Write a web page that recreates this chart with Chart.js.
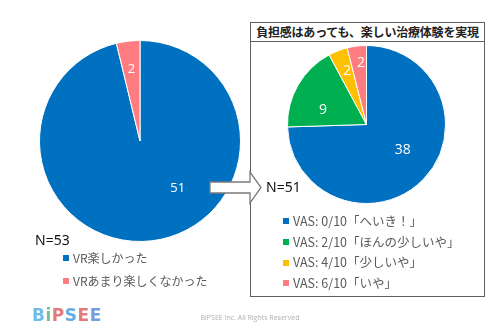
<!DOCTYPE html>
<html lang="ja">
<head>
<meta charset="utf-8">
<script src="https://cdn.jsdelivr.net/npm/chart.js@4.4.1/dist/chart.umd.min.js"></script>
<style>
  html, body { margin: 0; padding: 0; background: #fff; }
  #stage { position: relative; width: 500px; height: 334px; overflow: hidden;
           font-family: "Noto Sans CJK JP", "Noto Sans", sans-serif; }
  .abs { position: absolute; }
  canvas { display: block; }
  .legend-row { position: absolute; display: flex; align-items: center; white-space: nowrap;
                color: #595959; line-height: 1; }
  .swatch { display: inline-block; width: 6px; height: 6px; margin-right: 4px; }
  .ntext { position: absolute; font-family: "Noto Sans", sans-serif; font-size: 14px; color: #111;
           line-height: 1; }
  #box { position: absolute; left: 250px; top: 22px; width: 235px; height: 275px;
         border: 1.5px solid #606060; box-sizing: border-box; }
  #boxTitle { position: absolute; left: 0; top: 0; width: 100%; height: 19px;
              border-bottom: 1.5px solid #606060; box-sizing: border-box;
              font-size: 12px; font-weight: 700; color: #222; text-align: center; line-height: 18px;
              letter-spacing: -0.2px; }
  #logo { position: absolute; left: 32px; top: 305px; font-family: "DejaVu Sans", sans-serif;
          font-weight: 700; font-size: 17px; letter-spacing: 0.5px; opacity: 0.75; }
  #copy { position: absolute; left: 0; width: 500px; top: 313px; text-align: center;
          font-family: "Open Sans", sans-serif; font-size: 7px; color: #b0b0b0; }
</style>
</head>
<body>
<div id="stage">
  <div id="box"><div id="boxTitle"></div></div>
  <canvas id="leftPie" class="abs" style="left:39px;top:40px" width="202" height="202"></canvas>
  <canvas id="rightPie" class="abs" style="left:287px;top:45px" width="159" height="159"></canvas>
  <svg class="abs" style="left:0;top:0" width="500" height="334">
    <polygon points="210,182 250,182 250,172 261,187.5 250,203 250,193 210,193"
             fill="#ffffff" stroke="#7a7a7a" stroke-width="1.3"/>
  </svg>
  <div id="leftN" class="ntext" style="left:35px;top:233px"></div>
  <div id="rightN" class="ntext" style="left:266px;top:180px"></div>
  <div id="leftLegend"></div>
  <div id="rightLegend"></div>
  <div id="logo"></div>
  <div id="copy">BiPSEE Inc. All Rights Reserved</div>
</div>
<script>
// Overall enjoyment of the VR session
const enjoyLabels = ['VR楽しかった', 'VRあまり楽しくなかった'];
const enjoyValues = [51, 2];
const enjoyColors = ['#0070C0', '#FF7C80'];
const enjoyTotal = 'N=53';

// Burden (VAS) among those who enjoyed it
const vasLabels = ['VAS: 0/10「へいき！」', 'VAS: 2/10「ほんの少しいや」', 'VAS: 4/10「少しいや」', 'VAS: 6/10「いや」'];
const vasValues = [38, 9, 2, 2];
const vasColors = ['#0070C0', '#00B050', '#FFC000', '#FF7C80'];
const vasTotal = 'N=51';

const boxTitle = '負担感はあっても、楽しい治療体験を実現';

// Draws each slice's value in white inside the slice.
// angleShift (degrees) and radiusFrac nudge individual labels off the slice midline.
const sliceValueLabels = {
  id: 'sliceValueLabels',
  afterDatasetsDraw(chart, args, opts) {
    const ctx = chart.ctx;
    const meta = chart.getDatasetMeta(0);
    const values = chart.data.datasets[0].data;
    ctx.save();
    ctx.fillStyle = '#ffffff';
    ctx.font = opts.font || '13px "Open Sans", sans-serif';
    ctx.textAlign = 'center';
    ctx.textBaseline = 'middle';
    meta.data.forEach((arc, i) => {
      const mid = (arc.startAngle + arc.endAngle) / 2 + (opts.angleShift[i] || 0) * Math.PI / 180;
      const r = arc.outerRadius * opts.radiusFrac[i];
      ctx.fillText(String(values[i]), arc.x + Math.cos(mid) * r, arc.y + Math.sin(mid) * r);
    });
    ctx.restore();
  }
};

function pie(id, labels, values, colors, labelOpts) {
  return new Chart(document.getElementById(id), {
    type: 'pie',
    data: { labels, datasets: [{ data: values, backgroundColor: colors,
                                 borderColor: '#ffffff', borderWidth: 1 }] },
    options: {
      responsive: false,
      animation: false,
      layout: { padding: 0 },
      plugins: { legend: { display: false }, tooltip: { enabled: false },
                 sliceValueLabels: labelOpts }
    },
    plugins: [sliceValueLabels]
  });
}

pie('leftPie', enjoyLabels, enjoyValues, enjoyColors,
    { angleShift: [-32, 0], radiusFrac: [0.6, 0.72], font: '13px "Open Sans", sans-serif' });
pie('rightPie', vasLabels, vasValues, vasColors,
    { angleShift: [-9, -12, 1, 2], radiusFrac: [0.56, 0.58, 0.72, 0.78], font: '14px "Open Sans", sans-serif' });

// HTML legends built from the same label/colour arrays
function legend(containerId, labels, colors, left, top, step, fontSize) {
  const el = document.getElementById(containerId);
  labels.forEach((t, i) => {
    const row = document.createElement('div');
    row.className = 'legend-row';
    row.style.left = left + 'px';
    row.style.top = (top + i * step) + 'px';
    row.style.fontSize = fontSize + 'px';
    const sw = document.createElement('span');
    sw.className = 'swatch';
    sw.style.background = colors[i];
    row.appendChild(sw);
    row.appendChild(document.createTextNode(t));
    el.appendChild(row);
  });
}
legend('leftLegend', enjoyLabels, enjoyColors, 63, 252, 23, 12);
legend('rightLegend', vasLabels, vasColors, 283, 215, 20.7, 12.5);

document.getElementById('leftN').textContent = enjoyTotal;
document.getElementById('rightN').textContent = vasTotal;
document.getElementById('boxTitle').textContent = boxTitle;

// Company wordmark, one colour per letter
const logoLetters = ['B', 'i', 'P', 'S', 'E', 'E'];
const logoColors = ['#3fa9e0', '#4cae6a', '#d94f4f', '#2f8fd8', '#d94f4f', '#3f7fd0'];
const logo = document.getElementById('logo');
logoLetters.forEach((ch, i) => {
  const s = document.createElement('span');
  s.textContent = ch;
  s.style.color = logoColors[i];
  logo.appendChild(s);
});
</script>
</body>
</html>
